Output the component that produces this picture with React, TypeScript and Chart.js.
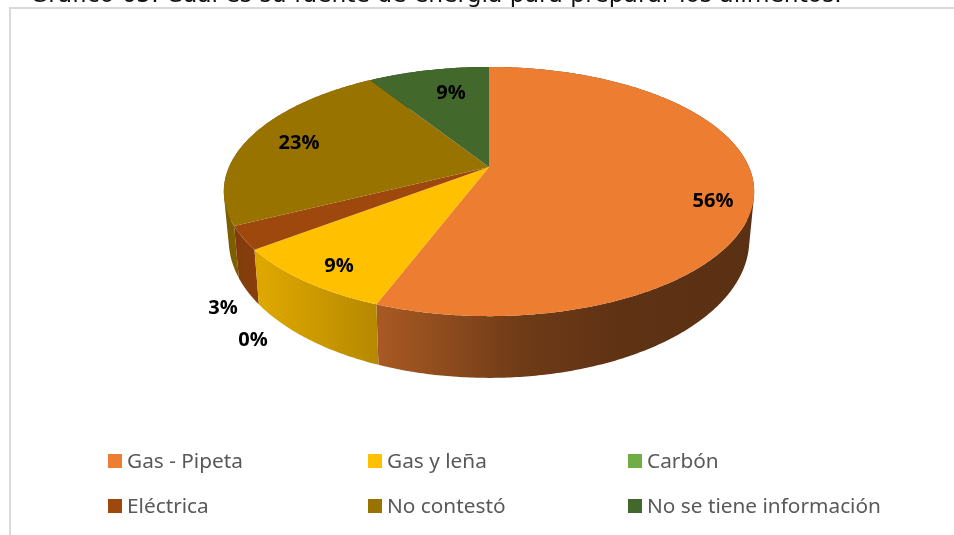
import React, { useEffect, useRef } from "react";
import { Chart, registerables } from "chart.js";

Chart.register(...registerables);

const categories = ["Gas - Pipeta", "Gas y leña", "Carbón", "Eléctrica", "No contestó", "No se tiene información"];
const shares = [55.75, 8.85, 0, 3.0, 23.45, 8.95];
const sliceColors = ["#ED7D31", "#FFC000", "#70AD47", "#9E480E", "#997300", "#43682B"];
const titleText = "Gráfico 65. Cuál es su fuente de energía para preparar los alimentos.";

// Label anchors (text only), one per slice.
const labelAnchors = [[713, 201], [339, 266], [253, 340], [223, 308], [299, 143], [451, 93]];
// Legend grid
const legendCols = [108, 368, 628];
const legendRows = [461, 506];

// Perspective of the tilted pie
const TILT = 0.4607;
const PERSP = 0.1968;
const BOTTOM = { rScale: 0.9815, kRatio: 0.51, dy: 45.8 };
const shadeStops: [number, number][] = [[224, 0.8], [262, 0.87], [380, 0.71], [520, 0.47], [620, 0.4], [754, 0.38]];

function rgb(hex: string) {
  const n = parseInt(hex.slice(1), 16);
  return [(n >> 16) & 255, (n >> 8) & 255, n & 255];
}

const tiltedPie = {
  id: "tiltedPie",
  beforeDatasetsDraw(chart: any) {
    const ctx: CanvasRenderingContext2D = chart.ctx;
    const arcs = chart.getDatasetMeta(0).data;
    const first = arcs[0];
    const cx = first.x, cy = first.y, R = first.outerRadius;
    const top = (a: number, r = 1) => {
      const X = r * Math.sin(a), Y = -r * Math.cos(a), w = 1 - PERSP * Y;
      return [cx + (R * X) / w, cy + (R * TILT * Y) / w];
    };
    const bot = (a: number) => {
      const X = Math.sin(a), Y = -Math.cos(a), w = 1 - PERSP * Y;
      return [cx + (R * BOTTOM.rScale * X) / w, cy + BOTTOM.dy + (R * BOTTOM.kRatio * Y) / w];
    };
    const rel = (arc: any) => [arc.startAngle + Math.PI / 2, arc.endAngle + Math.PI / 2];
    const steps = (a0: number, a1: number) => {
      const n = Math.max(2, Math.ceil((a1 - a0) / 0.01));
      return Array.from({ length: n + 1 }, (_, i) => a0 + ((a1 - a0) * i) / n);
    };

    // Side walls, back to front
    const order = arcs
      .map((arc: any, i: number) => ({ arc, i }))
      .filter((o: any) => o.arc.endAngle - o.arc.startAngle > 1e-4)
      .sort((p: any, q: any) => {
        const [a0, a1] = rel(p.arc);
        const [b0, b1] = rel(q.arc);
        return -Math.cos((a0 + a1) / 2) - -Math.cos((b0 + b1) / 2);
      });
    for (const { arc, i } of order) {
      const [a0, a1] = rel(arc);
      const [r, g, b] = rgb(sliceColors[i]);
      const grad = ctx.createLinearGradient(224, 0, 754, 0);
      for (const [x, f] of shadeStops) {
        grad.addColorStop((x - 224) / 530, `rgb(${Math.round(r * f)},${Math.round(g * f)},${Math.round(b * f)})`);
      }
      const as = steps(a0, a1);
      ctx.beginPath();
      for (let j = 0; j < as.length - 1; j++) {
        // Keep one winding so the strip fills as a single shape with no seams.
        const p0 = top(as[j]), p1 = top(as[j + 1]), q1 = bot(as[j + 1]), q0 = bot(as[j]);
        const area =
          (p1[0] - p0[0]) * (q1[1] - p0[1]) - (p1[1] - p0[1]) * (q1[0] - p0[0]);
        const quad = area >= 0 ? [p0, p1, q1, q0] : [q0, q1, p1, p0];
        ctx.moveTo(quad[0][0], quad[0][1]);
        for (let k = 1; k < 4; k++) ctx.lineTo(quad[k][0], quad[k][1]);
        ctx.closePath();
      }
      ctx.fillStyle = grad;
      ctx.fill();
    }

    // Top faces
    arcs.forEach((arc: any, i: number) => {
      const [a0, a1] = rel(arc);
      if (a1 - a0 < 1e-4) return;
      ctx.beginPath();
      const o = top(0, 0);
      ctx.moveTo(o[0], o[1]);
      steps(a0, a1).forEach((a) => {
        const p = top(a);
        ctx.lineTo(p[0], p[1]);
      });
      ctx.closePath();
      ctx.fillStyle = sliceColors[i];
      ctx.fill();
    });
    return false;
  },
  afterDraw(chart: any) {
    const ctx: CanvasRenderingContext2D = chart.ctx;
    ctx.save();
    // Frame
    ctx.strokeStyle = "#d9d9d9";
    ctx.lineWidth = 2;
    ctx.beginPath();
    ctx.moveTo(10, 535);
    ctx.lineTo(10, 8);
    ctx.lineTo(954, 8);
    ctx.stroke();
    // Clipped document caption above the frame
    ctx.fillStyle = "#111";
    ctx.font = "23.4px 'DejaVu Sans'";
    ctx.textAlign = "left";
    ctx.textBaseline = "alphabetic";
    ctx.fillText(titleText, 30, 2);
    // Data labels
    ctx.fillStyle = "#000";
    ctx.font = "bold 20px 'Open Sans'";
    ctx.textAlign = "center";
    ctx.textBaseline = "middle";
    shares.forEach((v, i) => {
      ctx.fillText(`${Math.round(v)}%`, labelAnchors[i][0], labelAnchors[i][1]);
    });
    // Legend
    ctx.font = "20.8px 'Noto Sans'";
    ctx.textAlign = "left";
    categories.forEach((c, i) => {
      const x = legendCols[i % 3], y = legendRows[Math.floor(i / 3)];
      ctx.fillStyle = sliceColors[i];
      ctx.fillRect(x, y - 7, 14, 14);
      ctx.fillStyle = "#595959";
      ctx.fillText(c, x + 19, y + 1);
    });
    ctx.restore();
  },
};

export default function App() {
  const ref = useRef<HTMLCanvasElement | null>(null);
  useEffect(() => {
    const chart = new Chart(ref.current as HTMLCanvasElement, {
      type: "pie",
      data: {
        labels: categories,
        datasets: [{ data: shares, backgroundColor: sliceColors, borderWidth: 0 }],
      },
      options: {
        animation: false,
        responsive: false,
        radius: 260,
        layout: { padding: { left: 24, bottom: 201 } },
        plugins: { legend: { display: false }, tooltip: { enabled: false } },
      } as any,
      plugins: [tiltedPie],
    });
    return () => chart.destroy();
  }, []);
  return (
    <canvas
      ref={ref}
      width={954}
      height={535}
      style={{ position: "fixed", left: 0, top: 0, width: 954, height: 535, background: "#fff", display: "block" }}
    />
  );
}
